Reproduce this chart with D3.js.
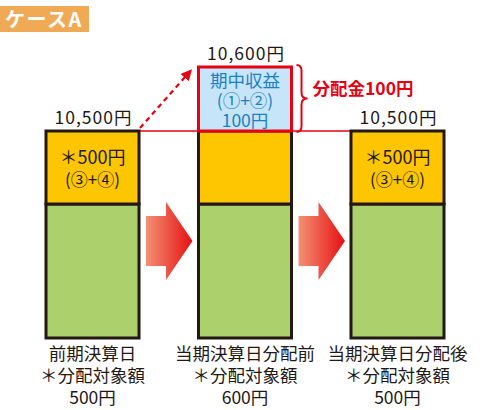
<!DOCTYPE html>
<html>
<head>
<meta charset="utf-8">
<script src="https://cdn.jsdelivr.net/npm/d3@7"></script>
<style>
  body { margin: 0; background: #fff; }
  svg { display: block; font-family: "Noto Sans CJK JP", "Noto Sans", sans-serif; }
</style>
</head>
<body>
<svg width="501" height="410"></svg>
<script>
// ---------------------------------------------
// data
// ---------------------------------------------
var stages = ["前期決算日", "当期決算日分配前", "当期決算日分配後"];
var baseValues = [10000, 10000, 10000];      // green part
var distributable = [500, 500, 500];         // yellow part (③+④)
var periodIncome = [0, 100, 0];              // blue part (①+②)
var totalLabels = ["10,500円", "10,600円", "10,500円"];
var targetAmounts = ["500円", "600円", "500円"];
var distribution = "分配金100円";

var svg = d3.select("svg");
var ink = "#231815", red = "#e60012";

// x: one band per stage
var x = d3.scaleBand().domain(stages).range([46, 444]).paddingInner(0.39);

// y: schematic (not proportional) - piecewise linear scale
var y = d3.scaleLinear()
    .domain([0, 10000, 10500, 10600])
    .range([338, 204, 131, 67]);

// gradient for the big arrows
var defs = svg.append("defs");
var grad = defs.append("linearGradient").attr("id", "arrowGrad")
    .attr("x1", "0%").attr("x2", "100%").attr("y1", "0%").attr("y2", "0%");
grad.append("stop").attr("offset", "0%").attr("stop-color", "#f39172");
grad.append("stop").attr("offset", "100%").attr("stop-color", "#e60f12");
defs.append("marker").attr("id", "head")
    .attr("viewBox", "0 0 10 10").attr("refX", 8).attr("refY", 5)
    .attr("markerWidth", 5).attr("markerHeight", 5).attr("orient", "auto")
    .attr("markerUnits", "strokeWidth")
    .append("path").attr("d", "M0,0 L10,5 L0,10 Z").attr("fill", red);

// title tag
svg.append("rect").attr("x", 0).attr("y", 6).attr("width", 89).attr("height", 26).attr("fill", "#f0a955");
svg.append("text").attr("x", 5).attr("y", 27).attr("fill", "#fff")
    .attr("font-size", 20).attr("font-weight", "bold").attr("letter-spacing", 1.5).text("ケースA");

// red reference line at 10,500
svg.append("line")
    .attr("x1", x(stages[0]) + x.bandwidth()).attr("x2", x(stages[2]))
    .attr("y1", y(10500)).attr("y2", y(10500))
    .attr("stroke", red).attr("stroke-width", 1.3);

// bars
var g = svg.append("g").selectAll("g").data(stages).enter().append("g");

g.append("rect")
    .attr("x", function(d) { return x(d); })
    .attr("y", function(d, i) { return y(baseValues[i]); })
    .attr("width", x.bandwidth())
    .attr("height", function(d, i) { return y(0) - y(baseValues[i]); })
    .attr("fill", "#abd06c").attr("stroke", ink).attr("stroke-width", 3);

g.append("rect")
    .attr("x", function(d) { return x(d); })
    .attr("y", function(d, i) { return y(baseValues[i] + distributable[i]); })
    .attr("width", x.bandwidth())
    .attr("height", function(d, i) { return y(baseValues[i]) - y(baseValues[i] + distributable[i]); })
    .attr("fill", "#fdc600").attr("stroke", ink).attr("stroke-width", 3);

// blue income box
var inc = g.filter(function(d, i) { return periodIncome[i] > 0; });
inc.append("rect")
    .attr("x", function(d) { return x(d); })
    .attr("y", function(d) { var i = stages.indexOf(d); return y(baseValues[i] + distributable[i] + periodIncome[i]); })
    .attr("width", x.bandwidth())
    .attr("height", function(d) { var i = stages.indexOf(d); return y(baseValues[i] + distributable[i]) - y(baseValues[i] + distributable[i] + periodIncome[i]); })
    .attr("fill", "#c6e5f8").attr("stroke", red).attr("stroke-width", 3);
inc.each(function(d) {
    var i = stages.indexOf(d), cx = x(d) + x.bandwidth() / 2;
    var top = y(baseValues[i] + distributable[i] + periodIncome[i]);
    var lines = ["期中収益", "(①+②)", periodIncome[i] + "円"];
    d3.select(this).selectAll("text.inc").data(lines).enter().append("text")
        .attr("class", "inc")
        .attr("x", cx).attr("y", function(t, k) { return top + 20 + k * 20; })
        .attr("text-anchor", "middle").attr("font-size", 17.5).attr("fill", "#1b80c4")
        .text(function(t) { return t; });
});

// yellow box labels
g.filter(function(d, i) { return periodIncome[i] === 0; }).each(function(d) {
    var i = stages.indexOf(d), cx = x(d) + x.bandwidth() / 2;
    var top = y(baseValues[i] + distributable[i]);
    d3.select(this).append("text").attr("x", cx).attr("y", top + 33)
        .attr("text-anchor", "middle").attr("font-size", 18).attr("fill", ink)
        .text("＊" + distributable[i] + "円");
    d3.select(this).append("text").attr("x", cx).attr("y", top + 55)
        .attr("text-anchor", "middle").attr("font-size", 17).attr("fill", ink)
        .text("(③+④)");
});

// totals above each bar
g.append("text")
    .attr("x", function(d) { return x(d) + x.bandwidth() / 2 + 1; })
    .attr("y", function(d, i) { return y(baseValues[i] + distributable[i] + periodIncome[i]) - 7; })
    .attr("text-anchor", "middle").attr("font-size", 17.5).attr("letter-spacing", 1).attr("fill", ink)
    .text(function(d, i) { return totalLabels[i]; });

// bottom labels
g.each(function(d, i) {
    var cx = x(d) + x.bandwidth() / 2;
    var lines = [d, "＊分配対象額", targetAmounts[i]];
    d3.select(this).selectAll("text.bot").data(lines).enter().append("text")
        .attr("class", "bot")
        .attr("x", cx).attr("y", function(t, k) { return 360 + k * 22; })
        .attr("text-anchor", "middle").attr("font-size", 17.5).attr("fill", ink)
        .text(function(t) { return t; });
});

// big gradient arrows between bars
for (var k = 0; k < 2; k++) {
    var x0 = x(stages[k]) + x.bandwidth() + 7;
    var x1 = x(stages[k + 1]) - 6;
    var cy = 241;
    var ax = [[x0, cy - 25], [x0 + 20, cy - 25], [x0 + 20, cy - 39], [x1, cy],
              [x0 + 20, cy + 39], [x0 + 20, cy + 25], [x0, cy + 25]];
    svg.append("path").attr("d", "M" + ax.join("L") + "Z").attr("fill", "url(#arrowGrad)");
}

// dashed red arrow from bar 1 to income box
svg.append("line")
    .attr("x1", x(stages[0]) + x.bandwidth() + 1).attr("y1", y(10500) - 3)
    .attr("x2", x(stages[1]) - 8).attr("y2", y(10600) + 4)
    .attr("stroke", red).attr("stroke-width", 2.2).attr("stroke-dasharray", "5,4")
    .attr("marker-end", "url(#head)");

// brace and distribution label
var bx = x(stages[1]) + x.bandwidth() + 5, t0 = y(10600) - 2, t1 = y(10500) + 1, tm = (t0 + t1) / 2;
svg.append("path")
    .attr("d", "M" + bx + "," + t0 + " Q" + (bx + 5) + "," + t0 + " " + (bx + 5) + "," + (t0 + 6) +
        " L" + (bx + 5) + "," + (tm - 6) + " Q" + (bx + 5) + "," + tm + " " + (bx + 11) + "," + tm +
        " Q" + (bx + 5) + "," + tm + " " + (bx + 5) + "," + (tm + 6) +
        " L" + (bx + 5) + "," + (t1 - 6) + " Q" + (bx + 5) + "," + t1 + " " + bx + "," + t1)
    .attr("fill", "none").attr("stroke", red).attr("stroke-width", 2);
svg.append("text").attr("x", bx + 16).attr("y", tm - 4)
    .attr("font-size", 17.5).attr("font-weight", "bold").attr("fill", red)
    .text(distribution);
</script>
</body>
</html>
